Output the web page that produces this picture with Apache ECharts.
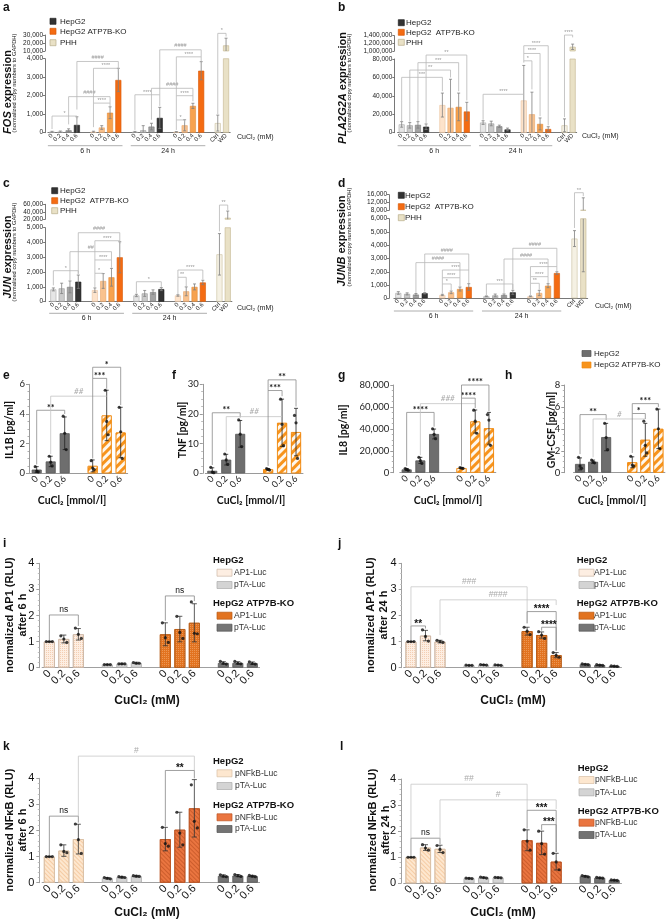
<!DOCTYPE html>
<html>
<head>
<meta charset="utf-8">
<script src="https://cdn.jsdelivr.net/npm/echarts@6/dist/echarts.min.js"></script>
<style>
  html, body { margin: 0; padding: 0; background: #fff; }
  #chart { width: 671px; height: 921px; }
</style>
</head>
<body>
<div id="chart"></div>
<script>
// ---------- data: panels a-d (qPCR, broken axis) ----------
const doseQ = ['0', '0.2', '0.4', '0.6'];
const phhCats = ['Ctrl', 'WD'];
const timeLabels = ['6 h', '24 h'];

const fosHep6 = [45, 50, 130, 420];
const fosKo6 = [50, 280, 1080, 2850];
const fosHep24 = [40, 130, 330, 800];
const fosKo24 = [40, 400, 1450, 3350];
const fosPhh = [520, 17000];
const fosHep6Sd = [30, 40, 80, 440];
const fosKo6Sd = [30, 100, 320, 630];
const fosHep24Sd = [30, 250, 180, 570];
const fosKo24Sd = [20, 300, 140, 490];
const fosPhhSd = [430, 9000];
const fosBrackets = [[0, 3, 900, 200, 750], [5, 7, 1600, 300, 1350], [2, 7, 1950, 450, 1600], [5, 8, 3480, 1600, 3300],
  [3, 8, 3850, 1250, 3480], [10, 13, 2050, 150, 1450], [12, 17, 2400, 700, 2000], [15, 16, 690, 150, 550],
  [15, 17, 2000, 690, 1700], [15, 18, 4100, 2000, 3850], [13, 18, 4480, 2050, 4100], [20, 21, 5370, 1000, 5200]];
const fosBracketLabels = ['*', '****', '####', '****', '####', '****', '####', '*', '****', '****', '####', '*'];

const plaHep6 = [9000, 8000, 8500, 6500];
const plaKo6 = [30000, 27000, 28000, 23000];
const plaHep24 = [11000, 10000, 7000, 3500];
const plaKo24 = [35000, 20000, 9500, 4000];
const plaPhh = [8000, 1110000];
const plaHep6Sd = [3000, 3000, 3500, 3000];
const plaKo6Sd = [13000, 31000, 15000, 10000];
const plaHep24Sd = [2000, 2500, 1200, 1500];
const plaKo24Sd = [38000, 24000, 6500, 2500];
const plaPhhSd = [7000, 70000];
const plaBrackets = [[0, 5, 60100, 12500, 45000], [1, 6, 68000, 12000, 60000], [2, 7, 76000, 12500, 45000], [3, 8, 84300, 10000, 35000],
  [10, 15, 41700, 14000, 41700], [15, 16, 78000, 76000, 47000], [15, 17, 86000, 78000, 18000], [15, 18, 94400, 86000, 8000],
  [20, 21, 106000, 17000, 103500]];
const plaBracketLabels = ['***', '**', '***', '**', '****', '*', '****', '****', '****'];

const junHep6 = [830, 900, 1000, 1350];
const junKo6 = [780, 1400, 1650, 3000];
const junHep24 = [420, 560, 650, 850];
const junKo24 = [420, 700, 1000, 1300];
const junPhh = [3200, 24000];
const junHep6Sd = [100, 350, 400, 450];
const junKo6Sd = [150, 500, 600, 1050];
const junHep24Sd = [80, 200, 150, 100];
const junKo24Sd = [50, 300, 200, 150];
const junPhhSd = [1400, 18000];
const junBrackets = [[0, 3, 2095, 1100, 1900], [5, 6, 1920, 1000, 1920], [5, 7, 2820, 1920, 2300], [2, 7, 3380, 1450, 2820],
  [5, 8, 4120, 2820, 3900], [3, 8, 4660, 1850, 4120], [10, 13, 1350, 550, 1000], [15, 16, 1650, 500, 1050],
  [15, 18, 2140, 1650, 1500], [20, 21, 6530, 4750, 6200]];
const junBracketLabels = ['*', '*', '****', '##', '****', '####', '*', '**', '****', '**'];

const junbHep6 = [400, 330, 280, 380];
const junbKo6 = [250, 450, 700, 850];
const junbHep24 = [150, 220, 250, 450];
const junbKo24 = [150, 400, 950, 1900];
const junbPhh = [4500, 8200];
const junbHep6Sd = [100, 80, 80, 50];
const junbKo6Sd = [50, 100, 150, 250];
const junbHep24Sd = [30, 100, 80, 150];
const junbKo24Sd = [30, 200, 150, 100];
const junbPhhSd = [600, 6200];
const junbBrackets = [[5, 6, 1080, 350, 600], [5, 7, 1550, 1080, 900], [5, 8, 2130, 1550, 1150], [2, 7, 2690, 400, 1550],
  [3, 8, 3340, 500, 2130], [10, 13, 1080, 250, 650], [15, 16, 1130, 250, 650], [15, 17, 1630, 1130, 1150],
  [15, 18, 2390, 1630, 2050], [12, 17, 2960, 400, 1630], [13, 18, 3770, 650, 2390], [20, 21, 7960, 5300, 7700]];
const junbBracketLabels = ['*', '****', '****', '####', '####', '***', '**', '****', '****', '####', '####', '**'];

// ---------- data: panels e-h (cytokines) ----------
const cytoDoses = ['0', '0.2', '0.6'];
const il1bHep = [0.25, 0.8, 2.7];
const il1bKo = [0.5, 3.9, 2.75];
const il1bHepSd = [0.2, 0.35, 1.1];
const il1bKoSd = [0.4, 1.7, 1.7];
const il1bHepPts = [[0.45, 0.15, 0.1], [1.15, 0.75, 0.5], [3.85, 2.7, 1.6]];
const il1bKoPts = [[0.85, 0.35, 0.25], [5.6, 3.5, 2.6], [4.45, 2.8, 1.0]];
const il1bBrackets = [[0, 2, 4.25, 0.6, 4.0], [1, 5, 5.2, 1.3, 5.2], [4, 5, 6.4, 1.0, 5.7], [4, 6, 7.15, 6.4, 4.6]];
const il1bBracketLabels = ['**', '##', '***', '*'];

const tnfHep = [0.85, 4.6, 13.3];
const tnfKo = [1.35, 17, 13.9];
const tnfHepSd = [1.0, 1.8, 4.5];
const tnfKoSd = [0.25, 8, 8];
const tnfHepPts = [[2.0, 0.4, 0.2], [6.5, 4.5, 3.0], [18, 13.2, 9.0]];
const tnfKoPts = [[1.6, 1.3, 1.1], [25, 16.5, 9.3], [19.5, 17, 5.0]];
const tnfBrackets = [[0, 2, 20.4, 2.8, 18.8], [1, 5, 19.1, 7.3, 19.1], [4, 5, 27.9, 2.5, 26], [4, 6, 31.5, 27.9, 22.5]];
const tnfBracketLabels = ['**', '##', '***', '**'];

const il8Hep = [3000, 11200, 35300];
const il8Ko = [4200, 46700, 40500];
const il8HepSd = [800, 2800, 4500];
const il8KoSd = [400, 10500, 14500];
const il8HepPts = [[3800, 3000, 2300], [14000, 11000, 8500], [40000, 35000, 31000]];
const il8KoPts = [[4600, 4200, 3900], [57000, 47000, 36000], [53000, 48000, 25000]];
const il8Brackets = [[0, 2, 55000, 6000, 42000], [1, 5, 63000, 16000, 63000], [4, 5, 68000, 6500, 59000], [4, 6, 80000, 68000, 56000]];
const il8BracketLabels = ['****', '###', '****', '****'];

const gmHep = [0.8, 1.0, 3.25];
const gmKo = [0.95, 3.0, 4.0];
const gmHepSd = [0.55, 0.15, 1.25];
const gmKoSd = [0.5, 1.5, 1.8];
const gmHepPts = [[1.4, 0.6, 0.4], [1.15, 1.0, 0.9], [4.5, 3.2, 2.1]];
const gmKoPts = [[1.5, 0.7, 0.6], [4.7, 2.5, 1.8], [5.8, 4.0, 2.2]];
const gmBrackets = [[0, 2, 5.3, 1.7, 4.8], [1, 5, 4.9, 1.4, 4.9], [4, 5, 5.4, 1.8, 4.9], [4, 6, 6.3, 5.4, 6.0]];
const gmBracketLabels = ['**', '#', '*', '***'];

// ---------- data: panels i-l (luciferase reporters) ----------
const lucDoses = ['0', '0.2', '0.6'];

const ap1Hep6 = [1.0, 1.1, 1.28], ap1HepTa6 = [0.12, 0.15, 0.18], ap1Ko6 = [1.28, 1.48, 1.72], ap1KoTa6 = [0.18, 0.18, 0.17];
const ap1Hep6Sd = [0, 0.15, 0.22], ap1HepTa6Sd = [0.01, 0.02, 0.03], ap1Ko6Sd = [0.44, 0.49, 0.73], ap1KoTa6Sd = [0.05, 0.05, 0.05];
const ap1Hep6Pts = [[1, 1, 1], [1.22, 1.1, 0.97], [1.52, 1.28, 1.12]];
const ap1HepTa6Pts = [[0.12, 0.12, 0.12], [0.15, 0.15, 0.15], [0.2, 0.17, 0.17]];
const ap1Ko6Pts = [[1.72, 1.15, 0.97], [1.97, 1.35, 1.12], [2.52, 1.32, 1.3]];
const ap1KoTa6Pts = [[0.24, 0.17, 0.14], [0.24, 0.17, 0.15], [0.22, 0.16, 0.14]];
const ap1Brackets6 = [[0, 2, 2.02, 1.05, 1.6], [8, 10, 2.75, 1.8, 2.55]];
const ap1BracketLabels6 = ['ns', 'ns'];

const ap1Hep24 = [1.0, 1.23, 1.0], ap1HepTa24 = [0.09, 0.11, 0.1], ap1Ko24 = [1.4, 1.25, 0.48], ap1KoTa24 = [0.13, 0.1, 0.06];
const ap1Hep24Sd = [0, 0.2, 0.05], ap1HepTa24Sd = [0.01, 0.01, 0.01], ap1Ko24Sd = [0.15, 0.12, 0.1], ap1KoTa24Sd = [0.02, 0.02, 0.01];
const ap1Hep24Pts = [[1, 1, 1], [1.45, 1.2, 1.02], [1.05, 1.0, 0.97]];
const ap1HepTa24Pts = [[0.1, 0.09, 0.09], [0.12, 0.11, 0.1], [0.11, 0.1, 0.09]];
const ap1Ko24Pts = [[1.55, 1.4, 1.27], [1.38, 1.25, 1.12], [0.58, 0.47, 0.4]];
const ap1KoTa24Pts = [[0.15, 0.13, 0.12], [0.12, 0.1, 0.09], [0.07, 0.06, 0.05]];
const ap1Brackets24 = [[0, 1, 1.6, 1.05, 1.5], [0, 8, 3.1, 1.05, 1.7], [2, 10, 2.6, 1.25, 2.4], [8, 10, 2.15, 1.7, 0.65], [9, 10, 1.55, 1.42, 0.65]];
const ap1BracketLabels24 = ['**', '###', '####', '****', '****'];

const nfHep6 = [1.0, 1.23, 1.67], nfHepTa6 = [0.17, 0.21, 0.25], nfKo6 = [1.67, 2.03, 2.85], nfKoTa6 = [0.26, 0.27, 0.25];
const nfHep6Sd = [0, 0.22, 0.57], nfHepTa6Sd = [0.03, 0.03, 0.03], nfKo6Sd = [0.45, 0.67, 1.1], nfKoTa6Sd = [0.04, 0.04, 0.03];
const nfHep6Pts = [[1, 1, 1], [1.45, 1.2, 1.15], [2.25, 1.65, 1.12]];
const nfHepTa6Pts = [[0.2, 0.17, 0.15], [0.23, 0.21, 0.2], [0.27, 0.25, 0.24]];
const nfKo6Pts = [[2.12, 1.5, 1.4], [2.7, 1.9, 1.45], [3.75, 2.35, 2.1]];
const nfKoTa6Pts = [[0.3, 0.25, 0.23], [0.31, 0.27, 0.24], [0.28, 0.25, 0.23]];
const nfBrackets6 = [[0, 2, 2.55, 1.05, 2.3], [2, 10, 4.85, 2.55, 4.3], [8, 10, 4.3, 2.15, 4.0]];
const nfBracketLabels6 = ['ns', '#', '**'];

const nfHep24 = [1.0, 1.37, 1.32], nfHepTa24 = [0.19, 0.22, 0.22], nfKo24 = [1.65, 1.55, 0.83], nfKoTa24 = [0.27, 0.21, 0.12];
const nfHep24Sd = [0, 0.11, 0.14], nfHepTa24Sd = [0.02, 0.02, 0.02], nfKo24Sd = [0.4, 0.45, 0.32], nfKoTa24Sd = [0.03, 0.02, 0.02];
const nfHep24Pts = [[1, 1, 1], [1.48, 1.35, 1.27], [1.45, 1.3, 1.18]];
const nfHepTa24Pts = [[0.2, 0.19, 0.18], [0.24, 0.22, 0.2], [0.23, 0.22, 0.21]];
const nfKo24Pts = [[2.05, 1.62, 1.27], [2.0, 1.52, 1.12], [1.15, 0.82, 0.52]];
const nfKoTa24Pts = [[0.3, 0.27, 0.25], [0.23, 0.21, 0.2], [0.13, 0.12, 0.11]];
const nfBrackets24 = [[0, 2, 1.73, 1.05, 1.5], [0, 8, 3.8, 1.73, 2.8], [2, 10, 3.2, 1.5, 2.85], [8, 10, 2.8, 2.1, 1.2], [9, 10, 2.25, 2.05, 1.2]];
const nfBracketLabels24 = ['ns', '##', '#', '***', '***'];

// ---------- styles ----------
const FONT = 'Liberation Sans';
const hepShades = ['#e6e6e6', '#cbcbcb', '#a3a3a3', '#333333'];
const hepEdges = ['#a8a8a8', '#999999', '#7a7a7a', '#222222'];
const koShades = ['#fde3cb', '#f9c28e', '#f7a24f', '#f46b12'];
const koEdges = ['#e9c29f', '#e8a468', '#e08a3a', '#d95a08'];
const phhShades = ['#f5f1e4', '#e9e1c6'];
const phhEdges = ['#c9bf9f', '#c2b68f'];

const stripeDecal = { symbol: 'rect', symbolSize: 1, color: 'rgba(255,255,255,0.92)', dashArrayX: [1, 0], dashArrayY: [2.2, 2.6], rotation: -Math.PI / 4 };
const dotDecal = c => ({ symbol: 'rect', symbolSize: 1, color: c, dashArrayX: [1, 1], dashArrayY: [1, 1] });
const hatchDecal = c => ({ symbol: 'rect', symbolSize: 1, color: c, dashArrayX: [1, 0], dashArrayY: [1, 2], rotation: Math.PI / 4 });

const cytoStyles = [
  { color: '#6e6e6e', borderColor: '#555555', borderWidth: 0.8 },
  { color: '#f7941d', borderColor: '#f08a12', borderWidth: 0.8, decal: stripeDecal }
];
const ap1Styles = [
  { color: '#fdeee2', borderColor: '#cdb7a6', borderWidth: 0.8, decal: dotDecal('rgba(235,180,140,0.55)') },
  { color: '#d4d4d4', borderColor: '#aaaaaa', borderWidth: 0.8 },
  { color: '#e27320', borderColor: '#b85a14', borderWidth: 0.8, decal: dotDecal('rgba(255,215,180,0.35)') },
  { color: '#757575', borderColor: '#555555', borderWidth: 0.8 }
];
const nfStyles = [
  { color: '#fde7cf', borderColor: '#d9bfa5', borderWidth: 0.8, decal: hatchDecal('rgba(240,185,135,0.6)') },
  { color: '#d4d4d4', borderColor: '#aaaaaa', borderWidth: 0.8 },
  { color: '#ea7540', borderColor: '#bd5422', borderWidth: 0.8, decal: hatchDecal('rgba(150,50,10,0.35)') },
  { color: '#737373', borderColor: '#555555', borderWidth: 0.8 }
];

// ---------- helpers ----------
const option = { animation: false, textStyle: { fontFamily: FONT }, grid: [], xAxis: [], yAxis: [], series: [], graphic: [] };

function gapJoin(groups, fill) {
  const out = [];
  groups.forEach((g, i) => { if (i) out.push(fill); g.forEach(v => out.push(v)); });
  return out;
}
function errItems(vals, sds) {
  const v = gapJoin(vals, null), s = gapJoin(sds, null);
  return v.map((m, i) => (m == null ? null : [i, m, s[i]])).filter(Boolean);
}
function ptItems(pts, r) {
  return gapJoin(pts, null).map((t, i) => (t ? [i, t[r]] : null)).filter(Boolean);
}
const fmtComma = v => v.toLocaleString('en-US');

function addGrid(g, x, y) {
  const i = option.grid.length;
  option.grid.push(Object.assign({ outerBoundsMode: 'none', containLabel: false }, g));
  option.xAxis.push(Object.assign({ gridIndex: i, type: 'category' }, x));
  option.yAxis.push(Object.assign({ gridIndex: i, type: 'value', splitLine: { show: false } }, y));
  return i;
}

function errorRender(color, cap) {
  return function (params, api) {
    const x = api.value(0), m = api.value(1), s = api.value(2);
    const t = api.coord([x, m + s]), b = api.coord([x, Math.max(m - s, 0)]);
    const st = { stroke: color, lineWidth: 0.8 };
    const kids = [
      { type: 'line', shape: { x1: t[0], y1: t[1], x2: b[0], y2: b[1] }, style: st },
      { type: 'line', shape: { x1: t[0] - cap, y1: t[1], x2: t[0] + cap, y2: t[1] }, style: st }
    ];
    if (m - s > 0) kids.push({ type: 'line', shape: { x1: b[0] - cap, y1: b[1], x2: b[0] + cap, y2: b[1] }, style: st });
    return { type: 'group', children: kids };
  };
}

function bracketRender(labels, look) {
  return function (params, api) {
    const a = api.value(0), b = api.value(1), y = api.value(2);
    const p1 = api.coord([a, y]), p2 = api.coord([b, y]);
    const q1 = api.coord([a, api.value(3)]), q2 = api.coord([b, api.value(4)]);
    const lab = labels[params.dataIndex];
    const hash = lab.indexOf('#') >= 0;
    const lc = hash ? look.hashLine : look.line, tc = hash ? look.hashText : look.text;
    const font = hash ? look.hashFont : (lab === 'ns' ? look.nsFont : look.font);
    return {
      type: 'group', children: [
        { type: 'polyline', shape: { points: [q1, p1, p2, q2] }, style: { stroke: lc, fill: 'none', lineWidth: 0.8 } },
        { type: 'text', style: { text: lab, x: (p1[0] + p2[0]) / 2, y: p1[1] + (lab.indexOf('*') >= 0 ? look.starDy : -1), align: 'center', verticalAlign: 'bottom', font: font, fill: tc } }
      ]
    };
  };
}

function groupRender(names, dy) {
  return function (params, api) {
    const p1 = api.coord([api.value(0), 0]), p2 = api.coord([api.value(1), 0]);
    const half = api.size([1, 0])[0] / 2;
    const y = p1[1] + dy;
    return {
      type: 'group', children: [
        { type: 'line', shape: { x1: p1[0] - half, y1: y, x2: p2[0] + half, y2: y }, style: { stroke: '#999', lineWidth: 0.8 } },
        { type: 'text', style: { text: names[params.dataIndex], x: (p1[0] + p2[0]) / 2, y: y + 5, align: 'center', verticalAlign: 'middle', font: '7px ' + FONT, fill: '#222' } }
      ]
    };
  };
}

function txt(x, y, text, font, extra) {
  option.graphic.push(Object.assign({ type: 'text', x: x, y: y, silent: true,
    style: Object.assign({ text: text, font: font, fill: '#111', align: 'left', verticalAlign: 'middle' }, extra && extra.style) }, extra && extra.el));
}
function box(x, y, w, h, fill, stroke) {
  option.graphic.push({ type: 'rect', silent: true, shape: { x: x, y: y, width: w, height: h },
    style: { fill: fill, stroke: stroke || null, lineWidth: 0.7 } });
}
function vtext(x, y, text, font, rich) {
  option.graphic.push({ type: 'text', x: x, y: y, rotation: Math.PI / 2, silent: true,
    style: { text: text, font: font, fill: '#111', align: 'center', verticalAlign: 'middle', rich: rich || {}, lineHeight: 13 } });
}

// ---------- panels a-d ----------
const adLook = { line: '#b8b8b8', text: '#9a9a9a', hashLine: '#b8b8b8', hashText: '#9a9a9a',
  font: '5.5px ' + FONT, hashFont: '5.5px ' + FONT, nsFont: '5.5px ' + FONT, starDy: 0.5 };

function exprPanel(c) {
  const cats = gapJoin([doseQ, doseQ, doseQ, doseQ, phhCats], '');
  const colors = gapJoin([hepShades, koShades, hepShades, koShades, phhShades], null);
  const edges = gapJoin([hepEdges, koEdges, hepEdges, koEdges, phhEdges], null);
  const barData = gapJoin(c.vals, '-').map((v, i) => (v === '-' ? '-' :
    { value: v, itemStyle: { color: colors[i], borderColor: edges[i], borderWidth: 0.6 } }));
  const yBase = {
    offset: c.offset,
    axisLine: { show: true, lineStyle: { color: '#555', width: 0.8 } },
    axisTick: { show: true, length: 2, lineStyle: { color: '#555', width: 0.8 } },
    axisLabel: { fontSize: 6.5, color: '#222', margin: 2, formatter: fmtComma, fontFamily: FONT }
  };
  const gb = addGrid({ left: c.left, width: c.width, top: c.botTop, height: c.botH },
    { data: cats, axisLine: { lineStyle: { color: '#555', width: 0.8 } }, axisTick: { show: false },
      axisLabel: { interval: 0, rotate: 45, fontSize: 6, color: '#222', margin: 2, fontFamily: FONT } },
    Object.assign({}, yBase, { min: 0, max: c.botMax, interval: c.botInt }));
  const gt = addGrid({ left: c.left, width: c.width, top: c.topTop, height: c.topH },
    { data: cats, show: false },
    Object.assign({}, yBase, { min: c.topMin, max: c.topMax, interval: c.topInt }));
  [gb, gt].forEach(g => {
    option.series.push({ type: 'bar', xAxisIndex: g, yAxisIndex: g, barWidth: 6, data: barData, z: 2, silent: true });
    option.series.push({ type: 'custom', xAxisIndex: g, yAxisIndex: g, clip: true, z: 4, silent: true,
      renderItem: errorRender('#808080', 1.5), data: errItems(c.vals, c.sds) });
  });
  option.series.push({ type: 'custom', xAxisIndex: gb, yAxisIndex: gb, z: 5, silent: true,
    renderItem: bracketRender(c.labels, adLook), data: c.brackets });
  option.series.push({ type: 'custom', xAxisIndex: gb, yAxisIndex: gb, z: 3, silent: true,
    renderItem: groupRender(timeLabels, c.groupDy), data: [[0, 8], [10, 18]] });
}

exprPanel({ left: 47.9, width: 182.3, offset: 2.9, botTop: 58.7, botH: 74, botMax: 4000, botInt: 1000,
  topTop: 35, topH: 16, topMin: 10000, topMax: 30000, topInt: 10000, groupDy: 13,
  vals: [fosHep6, fosKo6, fosHep24, fosKo24, fosPhh], sds: [fosHep6Sd, fosKo6Sd, fosHep24Sd, fosKo24Sd, fosPhhSd],
  brackets: fosBrackets, labels: fosBracketLabels });
exprPanel({ left: 397.6, width: 179.1, offset: 3.3, botTop: 59, botH: 73.7, botMax: 80000, botInt: 20000,
  topTop: 35.7, topH: 15.3, topMin: 1000000, topMax: 1400000, topInt: 200000, groupDy: 13,
  vals: [plaHep6, plaKo6, plaHep24, plaKo24, plaPhh], sds: [plaHep6Sd, plaKo6Sd, plaHep24Sd, plaKo24Sd, plaPhhSd],
  brackets: plaBrackets, labels: plaBracketLabels });
exprPanel({ left: 49.2, width: 182.7, offset: 4.1, botTop: 227.7, botH: 74, botMax: 5000, botInt: 1000,
  topTop: 204.3, topH: 15, topMin: 20000, topMax: 60000, topInt: 20000, groupDy: 11.6,
  vals: [junHep6, junKo6, junHep24, junKo24, junPhh], sds: [junHep6Sd, junKo6Sd, junHep24Sd, junKo24Sd, junPhhSd],
  brackets: junBrackets, labels: junBracketLabels });
exprPanel({ left: 393.9, width: 193.8, offset: 4.9, botTop: 218.7, botH: 79.6, botMax: 6000, botInt: 1000,
  topTop: 194.7, topH: 15.6, topMin: 8000, topMax: 16000, topInt: 4000, groupDy: 12.7,
  vals: [junbHep6, junbKo6, junbHep24, junbKo24, junbPhh], sds: [junbHep6Sd, junbKo6Sd, junbHep24Sd, junbKo24Sd, junbPhhSd],
  brackets: junbBrackets, labels: junbBracketLabels });

// ---------- panels e-h ----------
const cytoLook = { line: '#8a8a8a', text: '#111', hashLine: '#c4c4c4', hashText: '#aaaaaa',
  font: 'bold 9px Lato', hashFont: 'italic 8px Lato', nsFont: '8px Lato', starDy: 2 };

function cytoPanel(c) {
  const cats = gapJoin([cytoDoses, cytoDoses], '');
  const gi = addGrid({ left: c.left, top: c.top, width: c.width, height: c.height },
    { data: cats, axisLine: { lineStyle: { color: '#9a9a9a', width: 1 } }, axisTick: { show: false },
      axisLabel: { interval: 0, rotate: 45, fontFamily: 'Lato', fontSize: 9, color: '#222', margin: 4 } },
    { min: 0, max: c.max, interval: c.interval, offset: c.offset,
      axisLine: { show: true, lineStyle: { color: '#9a9a9a' } },
      axisTick: { show: true, length: 3, lineStyle: { color: '#9a9a9a' } },
      minorTick: { show: true, splitNumber: 4, length: 1.5, lineStyle: { color: '#b0b0b0' } },
      axisLabel: { fontFamily: 'Lato', fontSize: 9.5, color: '#222', margin: 4, formatter: fmtComma } });
  [c.hep, c.ko].forEach((vals, k) => {
    const data = cats.map(() => '-');
    vals.forEach((v, j) => { data[k * 4 + j] = v; });
    option.series.push({ type: 'bar', xAxisIndex: gi, yAxisIndex: gi, barWidth: 10, barGap: '-100%', data: data,
      itemStyle: cytoStyles[k], z: 2, silent: true });
  });
  option.series.push({ type: 'custom', xAxisIndex: gi, yAxisIndex: gi, z: 4, silent: true,
    renderItem: errorRender('#222', 2), data: errItems([c.hep, c.ko], [c.hepSd, c.koSd]) });
  [-1.5, 0, 1.5].forEach((dx, r) => {
    option.series.push({ type: 'scatter', xAxisIndex: gi, yAxisIndex: gi, z: 5, silent: true, symbolSize: 3.2,
      symbolOffset: [dx, 0], itemStyle: { color: '#111' }, data: ptItems([c.hepPts, c.koPts], r) });
  });
  option.series.push({ type: 'custom', xAxisIndex: gi, yAxisIndex: gi, z: 6, silent: true,
    renderItem: bracketRender(c.labels, cytoLook), data: c.brackets });
}

cytoPanel({ left: 29.7, top: 384.3, width: 98, height: 89, max: 6, interval: 2, offset: 0.7,
  hep: il1bHep, ko: il1bKo, hepSd: il1bHepSd, koSd: il1bKoSd, hepPts: il1bHepPts, koPts: il1bKoPts,
  brackets: il1bBrackets, labels: il1bBracketLabels });
cytoPanel({ left: 205.3, top: 384.3, width: 97.7, height: 89, max: 30, interval: 10, offset: 2.5,
  hep: tnfHep, ko: tnfKo, hepSd: tnfHepSd, koSd: tnfKoSd, hepPts: tnfHepPts, koPts: tnfKoPts,
  brackets: tnfBrackets, labels: tnfBracketLabels });
cytoPanel({ left: 399.8, top: 385, width: 96, height: 87.7, max: 80000, interval: 20000, offset: 6.5,
  hep: il8Hep, ko: il8Ko, hepSd: il8HepSd, koSd: il8KoSd, hepPts: il8HepPts, koPts: il8KoPts,
  brackets: il8Brackets, labels: il8BracketLabels });
cytoPanel({ left: 573.5, top: 385, width: 91.4, height: 87.7, max: 8, interval: 2, offset: 9.2,
  hep: gmHep, ko: gmKo, hepSd: gmHepSd, koSd: gmKoSd, hepPts: gmHepPts, koPts: gmKoPts,
  brackets: gmBrackets, labels: gmBracketLabels });

// ---------- panels i-l ----------
const lucLook = { line: '#888888', text: '#111', hashLine: '#c8c8c8', hashText: '#aaaaaa',
  font: 'bold 10px ' + FONT, hashFont: '8.5px ' + FONT, nsFont: '8.5px ' + FONT, starDy: 3 };

function lucPanel(c) {
  const cats = gapJoin([lucDoses, lucDoses, lucDoses, lucDoses], '');
  const gi = addGrid({ left: c.left, top: c.top, width: c.width, height: c.height },
    { data: cats, axisLine: { lineStyle: { color: '#a0a0a0', width: 1 } }, axisTick: { show: false },
      axisLabel: { interval: 0, rotate: 45, fontSize: 11, color: '#111', margin: 4, fontFamily: FONT } },
    { min: 0, max: 4, interval: 1, offset: c.offset,
      axisLine: { show: true, lineStyle: { color: '#a0a0a0' } },
      axisTick: { show: true, length: 3, lineStyle: { color: '#a0a0a0' } },
      minorTick: { show: true, splitNumber: 5, length: 1.5, lineStyle: { color: '#c0c0c0' } },
      axisLabel: { fontSize: 11, color: '#111', margin: 5, fontFamily: FONT } });
  c.sets.forEach((vals, k) => {
    const data = cats.map(() => '-');
    vals.forEach((v, j) => { data[k * 4 + j] = v; });
    option.series.push({ type: 'bar', xAxisIndex: gi, yAxisIndex: gi, barWidth: 11, barGap: '-100%', data: data,
      itemStyle: c.styles[k], z: 2, silent: true });
  });
  option.series.push({ type: 'custom', xAxisIndex: gi, yAxisIndex: gi, z: 4, silent: true,
    renderItem: errorRender('#333', 2.5), data: errItems(c.sets, c.sds) });
  [-3, 0, 3].forEach((dx, r) => {
    option.series.push({ type: 'scatter', xAxisIndex: gi, yAxisIndex: gi, z: 5, silent: true, symbolSize: 3.2,
      symbolOffset: [dx, 0], itemStyle: { color: '#111' }, data: ptItems(c.pts, r) });
  });
  option.series.push({ type: 'custom', xAxisIndex: gi, yAxisIndex: gi, z: 6, silent: true,
    renderItem: bracketRender(c.labels, lucLook), data: c.brackets });
}

lucPanel({ left: 42.1, top: 563.3, width: 217.5, height: 104.4, offset: 2.8, styles: ap1Styles,
  sets: [ap1Hep6, ap1HepTa6, ap1Ko6, ap1KoTa6], sds: [ap1Hep6Sd, ap1HepTa6Sd, ap1Ko6Sd, ap1KoTa6Sd],
  pts: [ap1Hep6Pts, ap1HepTa6Pts, ap1Ko6Pts, ap1KoTa6Pts], brackets: ap1Brackets6, labels: ap1BracketLabels6 });
lucPanel({ left: 403.7, top: 563.3, width: 217.8, height: 104.4, offset: 2, styles: ap1Styles,
  sets: [ap1Hep24, ap1HepTa24, ap1Ko24, ap1KoTa24], sds: [ap1Hep24Sd, ap1HepTa24Sd, ap1Ko24Sd, ap1KoTa24Sd],
  pts: [ap1Hep24Pts, ap1HepTa24Pts, ap1Ko24Pts, ap1KoTa24Pts], brackets: ap1Brackets24, labels: ap1BracketLabels24 });
lucPanel({ left: 42.1, top: 778.3, width: 217.5, height: 104.4, offset: 2.8, styles: nfStyles,
  sets: [nfHep6, nfHepTa6, nfKo6, nfKoTa6], sds: [nfHep6Sd, nfHepTa6Sd, nfKo6Sd, nfKoTa6Sd],
  pts: [nfHep6Pts, nfHepTa6Pts, nfKo6Pts, nfKoTa6Pts], brackets: nfBrackets6, labels: nfBracketLabels6 });
lucPanel({ left: 403.7, top: 779, width: 217.8, height: 104.3, offset: 2.7, styles: nfStyles,
  sets: [nfHep24, nfHepTa24, nfKo24, nfKoTa24], sds: [nfHep24Sd, nfHepTa24Sd, nfKo24Sd, nfKoTa24Sd],
  pts: [nfHep24Pts, nfHepTa24Pts, nfKo24Pts, nfKoTa24Pts], brackets: nfBrackets24, labels: nfBracketLabels24 });

// ---------- texts, legends, titles ----------
[['a', 3, 8], ['b', 338, 8], ['c', 3, 184], ['d', 338, 184], ['e', 3, 376], ['f', 172, 376], ['g', 338, 376], ['h', 505, 376],
 ['i', 3, 544], ['j', 338, 544], ['k', 3, 747], ['l', 340, 747]].forEach(p => txt(p[1], p[2], p[0], 'bold 12px ' + FONT));

// a-d axis titles
const itRich = { i: { fontStyle: 'italic', fontWeight: 'bold', fontSize: 11, fontFamily: FONT } };
vtext(8, 92, '{i|FOS} expression', 'bold 11px ' + FONT, itRich);
vtext(14, 83, '(normalized copy numbers to GAPDH)', '5.8px ' + FONT);
vtext(343, 88, '{i|PLA2G2A} expression', 'bold 11px ' + FONT, itRich);
vtext(349, 83, '(normalized copy numbers to GAPDH)', '5.8px ' + FONT);
vtext(8, 257, '{i|JUN} expression', 'bold 11px ' + FONT, itRich);
vtext(14, 252, '(normalized copy numbers to GAPDH)', '5.8px ' + FONT);
vtext(342, 241, '{i|JUNB} expression', 'bold 11px ' + FONT, itRich);
vtext(349, 237, '(normalized copy numbers to GAPDH)', '5.8px ' + FONT);
[[237, 137], [582, 136], [237, 307.7], [595, 306]].forEach(p => txt(p[0], p[1], 'CuCl\u2082 (mM)', '7px ' + FONT, { style: { fill: '#222' } }));

// a-d legends
function legendAD(x, tx, ys, labels) {
  const fills = ['#333333', '#f46b12', '#e9e1c6'];
  const strokes = ['#222', '#d95a08', '#b8ad8a'];
  ys.forEach((y, i) => { box(x, y - 3, 6, 6, fills[i], strokes[i]); txt(tx, y, labels[i], '8px ' + FONT, { style: { fill: '#222' } }); });
}
legendAD(50, 60, [21.3, 31.3, 42.7], ['HepG2', 'HepG2 ATP7B-KO', 'PHH']);
legendAD(398.3, 406, [22.7, 32.3, 42.3], ['HepG2', 'HepG2  ATP7B-KO', 'PHH']);
legendAD(51.7, 60, [190.7, 200.7, 210.7], ['HepG2', 'HepG2  ATP7B-KO', 'PHH']);
legendAD(398.3, 405, [195.3, 206.7, 217.7], ['HepG2', 'HepG2  ATP7B-KO', 'PHH']);

// e-h titles and legend
vtext(10, 430, 'IL1B [pg/ml]', 'bold 10.5px Lato');
vtext(183, 430, 'TNF [pg/ml]', 'bold 10.5px Lato');
vtext(344, 430, 'IL8 [pg/ml]', 'bold 10.5px Lato');
vtext(552, 430, 'GM-CSF [pg/ml]', 'bold 10.5px Lato');
[[72, 501], [251, 501], [448, 501], [612, 501]].forEach(p => txt(p[0], p[1], 'CuCl\u2082 [mmol/l]', 'bold 10.5px Lato', { style: { align: 'center' } }));
box(582, 350.5, 9, 6, '#6e6e6e', '#555');
txt(594, 353.3, 'HepG2', '8px ' + FONT, { style: { fill: '#222' } });
box(582, 362, 9, 6, '#f7941d', '#f08a12');
txt(594, 365, 'HepG2 ATP7B-KO', '8px ' + FONT, { style: { fill: '#222' } });

// i-l titles
vtext(16.5, 615, 'normalized AP1 (RLU)\nafter 6 h', 'bold 11px ' + FONT);
vtext(377.5, 615, 'normalized AP1 (RLU)\nafter 24 h', 'bold 11px ' + FONT);
vtext(16.5, 830, 'normalized NF\u03baB (RLU)\nafter 6 h', 'bold 11px ' + FONT);
vtext(379, 830, 'normalized NF\u03baB (RLU)\nafter 24 h', 'bold 11px ' + FONT);
[[147, 701], [513, 701], [147, 913], [503, 913]].forEach(p => txt(p[0], p[1], 'CuCl\u2082 (mM)', 'bold 12px ' + FONT, { style: { align: 'center' } }));

// i-l legends
function legendLuc(hx, sx, tx, ys, reporter, styles) {
  txt(hx, ys[0], 'HepG2', 'bold 9.5px ' + FONT);
  txt(hx, ys[3], 'HepG2 ATP7B-KO', 'bold 9.5px ' + FONT);
  const rows = [[ys[1], reporter, styles[0]], [ys[2], 'pTA-Luc', styles[1]], [ys[4], reporter, styles[2]], [ys[5], 'pTA-Luc', styles[3]]];
  rows.forEach(r => { box(sx, r[0] - 3.5, 15, 7, r[2].color, r[2].borderColor); txt(tx, r[0], r[1], '8.5px ' + FONT, { style: { fill: '#333' } }); });
}
legendLuc(213, 217, 234, [560.7, 572.7, 585, 603.3, 615.7, 627.7], 'AP1-Luc', ap1Styles);
legendLuc(576.7, 579, 594, [560.7, 572.7, 585, 603.3, 615.7, 627.7], 'AP1-Luc', ap1Styles);
legendLuc(213, 217, 235, [761.7, 773.3, 786, 805, 817.3, 829], 'pNFkB-Luc', nfStyles);
legendLuc(577.7, 579, 595, [768.3, 780, 792.3, 811.7, 822.7, 835], 'pNFkB-Luc', nfStyles);

const chart = echarts.init(document.getElementById('chart'), null, { renderer: 'canvas', width: 671, height: 921 });
chart.setOption(option);
</script>
</body>
</html>
